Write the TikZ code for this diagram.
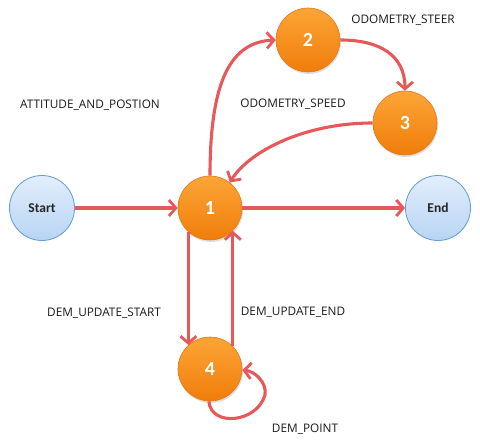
\documentclass[tikz,border=0pt]{standalone}
\usepackage{fontspec}
\setmainfont{Open Sans}
\newfontfamily\calib{Carlito}
\usetikzlibrary{arrows.meta,shadows}
\definecolor{edgered}{RGB}{230,88,90}
\definecolor{orgtop}{RGB}{252,165,55}
\definecolor{orgbot}{RGB}{240,125,10}
\definecolor{orgline}{RGB}{225,120,30}
\definecolor{bluetop}{RGB}{226,238,252}
\definecolor{bluebot}{RGB}{184,212,244}
\definecolor{blueline}{RGB}{100,154,214}
\tikzset{
  state/.style={circle, minimum size=64pt, inner sep=0pt, draw=orgline, line width=0.6pt,
    top color=orgtop, bottom color=orgbot, text=white,
    font=\calib\bfseries\fontsize{20}{20}\selectfont,
    drop shadow={opacity=0.25, shadow xshift=1pt, shadow yshift=-2pt}},
  term/.style={circle, minimum size=65pt, inner sep=0pt, draw=blueline, line width=0.8pt,
    top color=bluetop, bottom color=bluebot, text=black!85,
    font=\calib\bfseries\fontsize{13.5}{13.5}\selectfont},
  lbl/.style={font=\fontsize{11.8}{12}\selectfont, text=black!90, inner sep=0pt},
  edge/.style={draw=edgered, line width=3.1pt, -{Straight Barb[length=7pt,width=16pt,line width=2.8pt]}}
}
\begin{document}
\begin{tikzpicture}[x=1pt,y=-1pt]
\useasboundingbox (0,0) rectangle (480,441);
\node[term] (start) at (42,208) {Start};
\node[term] (end) at (438,208) {End};
\node[state] (n1) at (210,208) {1};
\node[state] (n2) at (308,40) {2};
\node[state] (n3) at (405,123) {3};
\node[state] (n4) at (210,369) {4};

\node[lbl] (l1) at (90,105) {ATTITUDE\_AND\_POSTION};
\node[lbl] (l2) at (403,20) {ODOMETRY\_STEER};
\node[lbl] (l3) at (293,104) {ODOMETRY\_SPEED};
\node[lbl] (l4) at (104,313) {DEM\_UPDATE\_START};
\node[lbl] (l5) at (293,312) {DEM\_UPDATE\_END};
\node[lbl] (l6) at (305,429) {DEM\_POINT};

\draw[edge] (start.east) -- (n1.west);
\draw[edge] (n1.east) -- (end.west);
\draw[edge] (n1.north) .. controls +(0,-95) and +(-45,2) .. (n2.west);
\draw[edge] (n2.east) .. controls +(40,0) and +(0,-35) .. (n3.north);
\draw[edge] (n3.west) .. controls +(-70,0) and +(18,-30) .. (n1.52);
\draw[edge] (n1.-132) -- (n4.132);
\draw[edge] (n4.45) -- (n1.-45);
\draw[edge] (n4.-92) .. controls +(2,26) and +(-8,28) .. (265,395) .. controls +(2,-13) and +(12,1) .. (n4.-2);
\end{tikzpicture}
\end{document}
